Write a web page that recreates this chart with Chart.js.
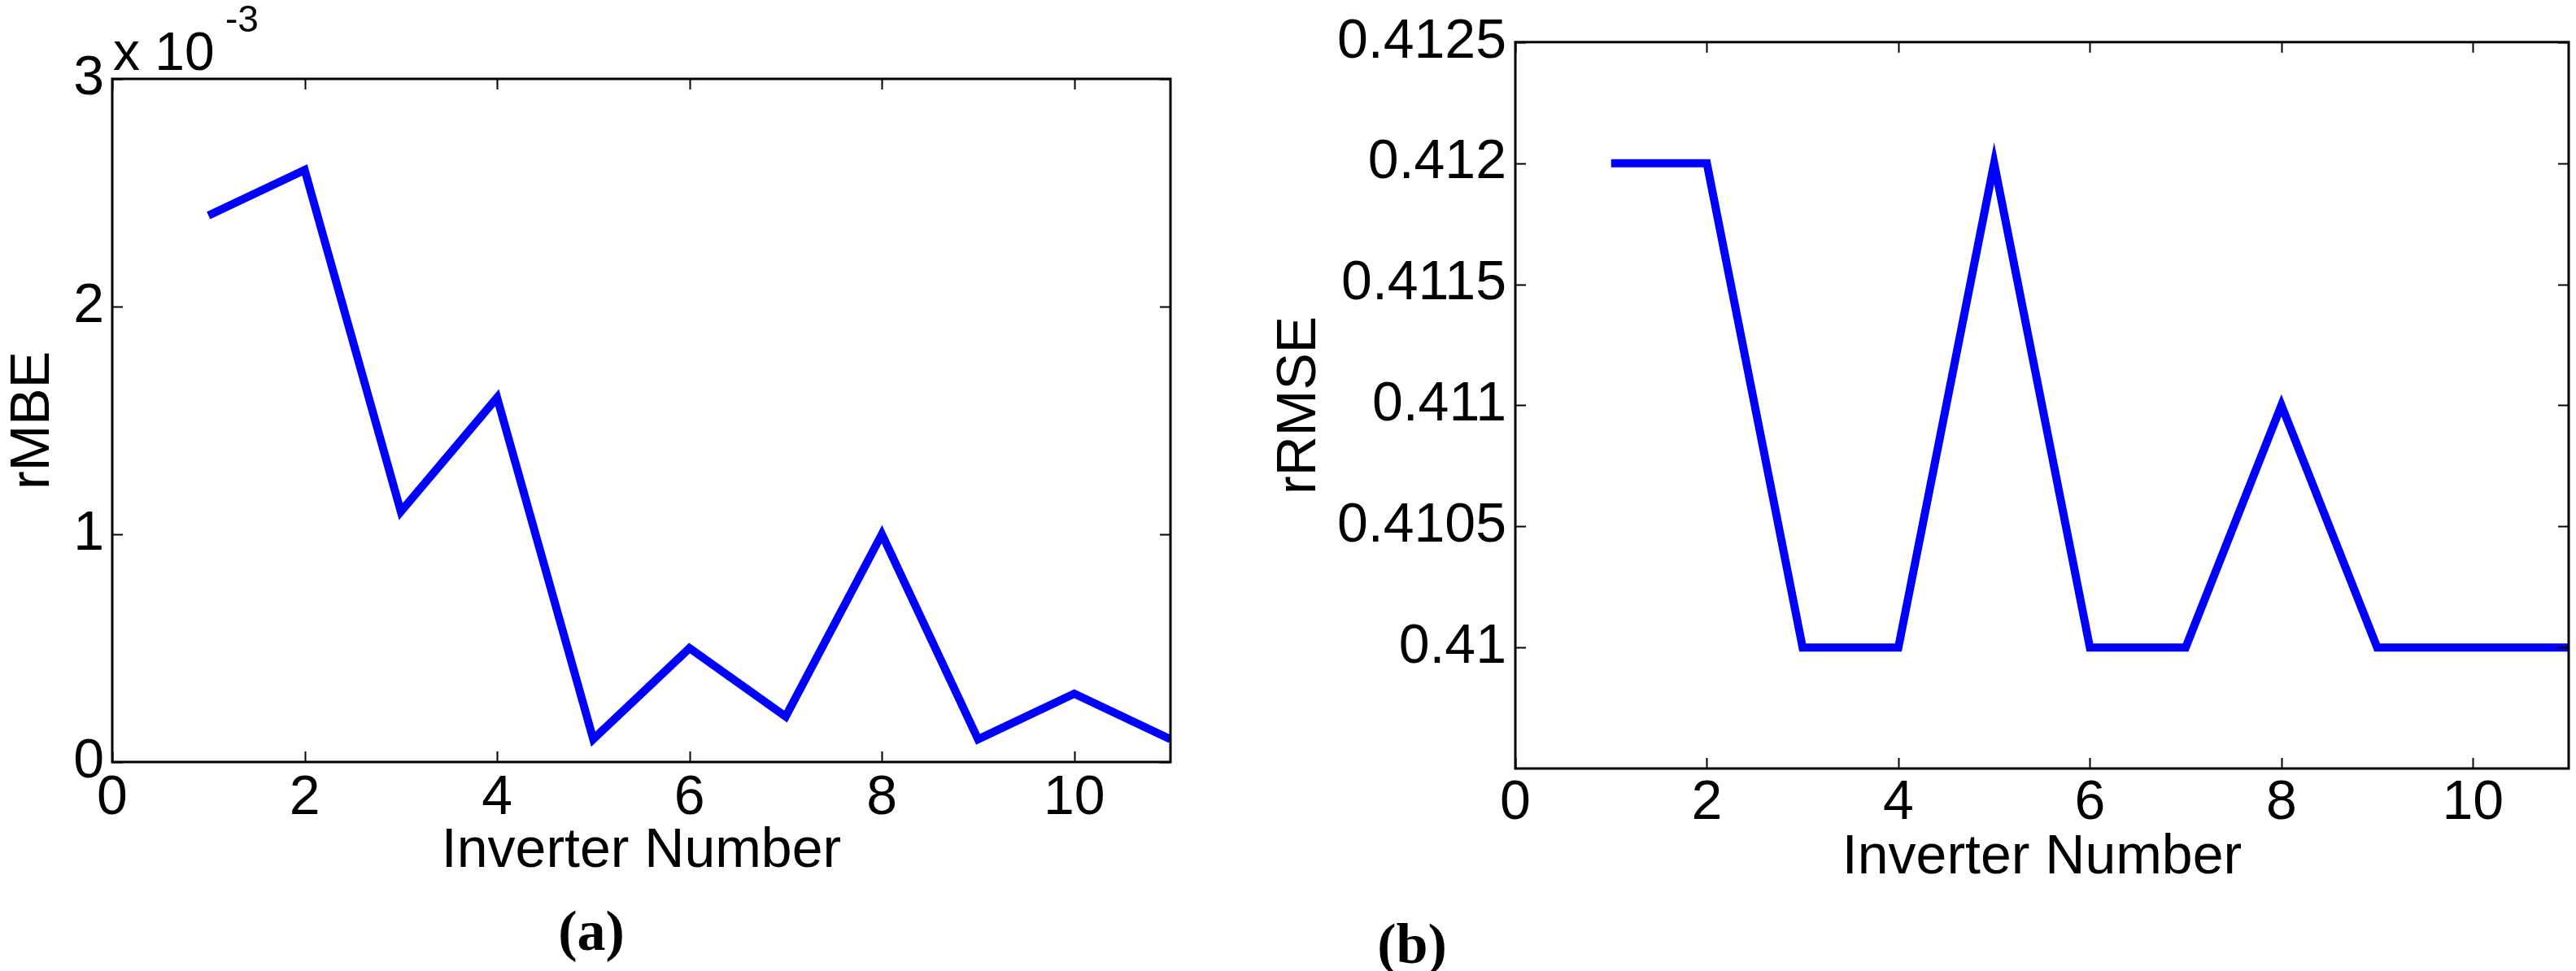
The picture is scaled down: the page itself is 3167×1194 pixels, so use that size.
<!DOCTYPE html>
<html>
<head>
<meta charset="utf-8">
<script src="https://cdn.jsdelivr.net/npm/chart.js@4.4.1/dist/chart.umd.min.js"></script>
<style>
    body { margin: 0; background: #fff; width: 3167px; height: 1194px; position: relative; overflow: hidden; }
    canvas { position: absolute; top: 0; }
    .txt { position: absolute; font-family: 'Liberation Sans', Arial, sans-serif; line-height: 1; color: #000; white-space: nowrap; }
    .lab { position: absolute; font-family: 'Liberation Serif', 'Times New Roman', serif; font-weight: bold; font-size: 70px; line-height: 1; text-align: center; width: 200px; }
</style>
</head>
<body>
<canvas id="graficoRmbe" width="1557" height="1088" style="left:0px"></canvas>
<canvas id="graficoRrmse" width="1610" height="1096" style="left:1557px"></canvas>

<div class="txt" style="left:139px; top:30px; font-size:66px;">x 10</div>
<div class="txt" style="left:277px; top:0px; font-size:46px;">-3</div>
<div class="lab" style="left:627px; top:1110px;">(a)</div>
<div class="lab" style="left:1636px; top:1126px;">(b)</div>

<script>
// datos
const inversores = [1, 2, 3, 4, 5, 6, 7, 8, 9, 10, 11];
const rmbe = [0.0024, 0.0026, 0.0011, 0.0016, 0.0001, 0.0005, 0.0002, 0.0010, 0.0001, 0.0003, 0.0001];
const rrmse = [0.412, 0.412, 0.410, 0.410, 0.412, 0.410, 0.410, 0.411, 0.410, 0.410, 0.410];

const ticksX = [0, 2, 4, 6, 8, 10];
const ticksRmbe = [0, 0.001, 0.002, 0.003];
const ticksRrmse = [0.41, 0.4105, 0.411, 0.4115, 0.412, 0.4125];

const fuente = { family: "'Liberation Sans', Arial, sans-serif", size: 68 };

// caja negra con marcas hacia dentro, estilo matlab
const cajaPlugin = {
    id: 'caja',
    afterDraw(chart) {
        const ctx = chart.ctx;
        const a = chart.chartArea;
        const x = chart.scales.x;
        const y = chart.scales.y;
        const largo = 13;
        ctx.save();
        ctx.strokeStyle = '#000';
        ctx.lineWidth = 2;
        ctx.beginPath();
        x.ticks.forEach(t => {
            const px = Math.round(x.getPixelForValue(t.value)) + 0.5;
            ctx.moveTo(px, a.bottom); ctx.lineTo(px, a.bottom - largo);
            ctx.moveTo(px, a.top); ctx.lineTo(px, a.top + largo);
        });
        y.ticks.forEach(t => {
            const py = Math.round(y.getPixelForValue(t.value)) + 0.5;
            ctx.moveTo(a.left, py); ctx.lineTo(a.left + largo, py);
            ctx.moveTo(a.right, py); ctx.lineTo(a.right - largo, py);
        });
        ctx.stroke();
        ctx.lineWidth = 3;
        ctx.strokeRect(a.left, a.top, a.right - a.left, a.bottom - a.top);
        ctx.restore();
    }
};

function crearGrafico(id, valores, yMin, yMax, ticksY, etiquetaY, formato, cfg) {
    const ctx = document.getElementById(id).getContext('2d');
    return new Chart(ctx, {
        type: 'line',
        data: {
            datasets: [{
                data: inversores.map((n, i) => ({ x: n, y: valores[i] })),
                borderColor: '#0000ff',
                borderWidth: 10,
                pointRadius: 0,
                tension: 0,
                borderJoinStyle: 'miter',
                clip: 0
            }]
        },
        options: {
            responsive: false,
            animation: false,
            devicePixelRatio: 1,
            layout: { padding: { top: cfg.top, right: cfg.right, left: 0, bottom: 0 } },
            plugins: { legend: { display: false }, tooltip: { enabled: false } },
            scales: {
                x: {
                    type: 'linear',
                    min: 0,
                    max: 11,
                    afterBuildTicks: s => { s.ticks = ticksX.map(v => ({ value: v })); },
                    afterFit: s => { s.height = cfg.alturaX; },
                    grid: { display: false, drawTicks: false },
                    border: { display: false },
                    ticks: { color: '#000', font: fuente, padding: cfg.padX, maxRotation: 0, autoSkip: false },
                    title: { display: true, text: 'Inverter Number', color: '#000', font: fuente, padding: 0 }
                },
                y: {
                    type: 'linear',
                    min: yMin,
                    max: yMax,
                    afterBuildTicks: s => { s.ticks = ticksY.map(v => ({ value: v })); },
                    afterFit: s => { s.width = cfg.anchoY; },
                    grid: { display: false, drawTicks: false },
                    border: { display: false },
                    ticks: { color: '#000', font: fuente, padding: cfg.padY, autoSkip: false, callback: formato },
                    title: { display: true, text: etiquetaY, color: '#000', font: fuente, padding: 0 }
                }
            }
        },
        plugins: [cajaPlugin]
    });
}

crearGrafico('graficoRmbe', rmbe, 0, 0.003, ticksRmbe, 'rMBE',
    v => String(Math.round(v * 1000)),
    { top: 97, right: 118, alturaX: 151, anchoY: 138, padX: 4, padY: 10 });

crearGrafico('graficoRrmse', rrmse, 0.4095, 0.4125, ticksRrmse, 'rRMSE',
    v => String(Number(v.toFixed(4))),
    { top: 44, right: 9, alturaX: 151, anchoY: 306, padX: 2, padY: 11 });
</script>
</body>
</html>
